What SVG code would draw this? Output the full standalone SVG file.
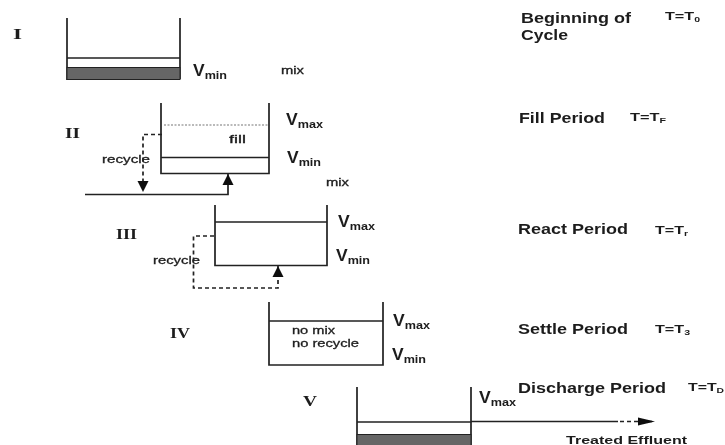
<svg xmlns="http://www.w3.org/2000/svg" width="725" height="445" viewBox="0 0 725 445">
<style>
text{font-family:"Liberation Sans",Arial,sans-serif;fill:#1c1c1c;font-weight:bold}
.r{font-family:"Liberation Serif","Times New Roman",serif;font-size:15px;font-weight:bold;fill:#1c1c1c}
.h{font-size:15.5px}
.t{font-size:11.500px}
.v{font-size:16px}
.s{font-size:11.500px}
.m{font-size:11px;font-weight:normal;stroke:#1c1c1c;stroke-width:.3}
.l{fill:none;stroke:#222;stroke-width:1.7}
.d{fill:none;stroke:#222;stroke-width:1.7;stroke-dasharray:4 3}
.g{fill:#666;stroke:#222;stroke-width:1}
</style>
<defs>
<marker id="a" markerUnits="userSpaceOnUse" markerWidth="13" markerHeight="13" refX="11" refY="6" orient="auto"><path d="M0,0.500 L11,6 L0,11.500 Z" fill="#111"/></marker>
<marker id="b" markerUnits="userSpaceOnUse" markerWidth="18" markerHeight="12" refX="17" refY="5" orient="auto"><path d="M0,1 L17,5 L0,9 Z" fill="#111"/></marker>
<filter id="soft" x="-2%" y="-2%" width="104%" height="104%"><feGaussianBlur stdDeviation="0.45"/></filter>
</defs>
<rect width="725" height="445" fill="#fff"/>
<g filter="url(#soft)">
<g id="stage-1">
<path class="l" d="M67,18 V80 M180,18 V79 M67,58 H180"/>
<rect class="g" x="67" y="67.500" width="113" height="12"/>
<text class="r" x="13" y="39" textLength="9" lengthAdjust="spacingAndGlyphs">I</text>
<text class="v" x="193" y="76" textLength="34" lengthAdjust="spacingAndGlyphs">V<tspan class="s" dy="3">min</tspan></text>
<text class="m" x="281" y="74" textLength="23" lengthAdjust="spacingAndGlyphs">mix</text>
<text class="h" x="521" y="23" textLength="110" lengthAdjust="spacingAndGlyphs">Beginning of</text>
<text class="h" x="521" y="40" textLength="47" lengthAdjust="spacingAndGlyphs">Cycle</text>
<text class="t" x="665" y="20" textLength="35" lengthAdjust="spacingAndGlyphs">T=T<tspan font-size="7.500" dy="2">0</tspan></text>
</g>
<g id="stage-2">
<path class="l" d="M161,103 V173.500 H269 V103 M161,157.500 H269"/>
<path fill="none" stroke="#777" stroke-width="1.2" stroke-dasharray="2 1.500" d="M164,125 H268"/>
<text class="r" x="65" y="138" textLength="15" lengthAdjust="spacingAndGlyphs">II</text>
<text class="m" x="229" y="143" textLength="17" lengthAdjust="spacingAndGlyphs">fill</text>
<text class="m" x="102" y="163" textLength="48" lengthAdjust="spacingAndGlyphs">recycle</text>
<text class="v" x="286" y="125" textLength="37" lengthAdjust="spacingAndGlyphs">V<tspan class="s" dy="3">max</tspan></text>
<text class="v" x="287" y="163" textLength="34" lengthAdjust="spacingAndGlyphs">V<tspan class="s" dy="3">min</tspan></text>
<text class="m" x="326" y="186" textLength="23" lengthAdjust="spacingAndGlyphs">mix</text>
<text class="h" x="519" y="123" textLength="86" lengthAdjust="spacingAndGlyphs">Fill Period</text>
<text class="t" x="630" y="121" textLength="36" lengthAdjust="spacingAndGlyphs">T=T<tspan font-size="7.500" dy="2">F</tspan></text>
</g>
<g id="stage-3">
<path class="l" d="M215,205 V265.500 H327 V205 M215,222 H327"/>
<text class="r" x="116" y="239" textLength="21" lengthAdjust="spacingAndGlyphs">III</text>
<text class="m" x="153" y="264" textLength="47" lengthAdjust="spacingAndGlyphs">recycle</text>
<text class="v" x="338" y="227" textLength="37" lengthAdjust="spacingAndGlyphs">V<tspan class="s" dy="3">max</tspan></text>
<text class="v" x="336" y="261" textLength="34" lengthAdjust="spacingAndGlyphs">V<tspan class="s" dy="3">min</tspan></text>
<text class="h" x="518" y="234" textLength="110" lengthAdjust="spacingAndGlyphs">React Period</text>
<text class="t" x="655" y="234" textLength="33" lengthAdjust="spacingAndGlyphs">T=T<tspan font-size="7.500" dy="2">r</tspan></text>
</g>
<g id="stage-4">
<path class="l" d="M269,302 V365 H383 V302 M269,321 H383"/>
<text class="r" x="170" y="338" textLength="20" lengthAdjust="spacingAndGlyphs">IV</text>
<text class="m" x="292" y="334" textLength="43" lengthAdjust="spacingAndGlyphs">no mix</text>
<text class="m" x="292" y="347" textLength="67" lengthAdjust="spacingAndGlyphs">no recycle</text>
<text class="v" x="393" y="326" textLength="37" lengthAdjust="spacingAndGlyphs">V<tspan class="s" dy="3">max</tspan></text>
<text class="v" x="392" y="360" textLength="34" lengthAdjust="spacingAndGlyphs">V<tspan class="s" dy="3">min</tspan></text>
<text class="h" x="518" y="334" textLength="110" lengthAdjust="spacingAndGlyphs">Settle Period</text>
<text class="t" x="655" y="333" textLength="35" lengthAdjust="spacingAndGlyphs">T=T<tspan font-size="7.500" dy="2">3</tspan></text>
</g>
<g id="stage-5">
<path class="l" d="M357,387 V445 M471,387 V445 M357,422 H471"/>
<rect class="g" x="357" y="434.500" width="114" height="11"/>
<text class="r" x="303" y="406" textLength="14" lengthAdjust="spacingAndGlyphs">V</text>
<text class="v" x="479" y="403" textLength="37" lengthAdjust="spacingAndGlyphs">V<tspan class="s" dy="3">max</tspan></text>
<text class="h" x="518" y="393" textLength="148" lengthAdjust="spacingAndGlyphs">Discharge Period</text>
<text class="t" x="688" y="391" textLength="36" lengthAdjust="spacingAndGlyphs">T=T<tspan font-size="7.500" dy="2">D</tspan></text>
<text x="566" y="444" font-size="11.500" textLength="121" lengthAdjust="spacingAndGlyphs">Treated Effluent</text>
</g>
<g id="connectors">
<path class="d" d="M162,134.500 H143 V192" marker-end="url(#a)"/>
<path class="l" d="M85,194.500 H228 V174" marker-end="url(#a)"/>
<path class="d" d="M214,236 H193.500 V288 H278 V266" marker-end="url(#a)"/>
<path class="l" d="M471,421.500 H618"/>
<path class="d" d="M620,421.500 H655" marker-end="url(#b)"/>
</g>
</g>
</svg>
